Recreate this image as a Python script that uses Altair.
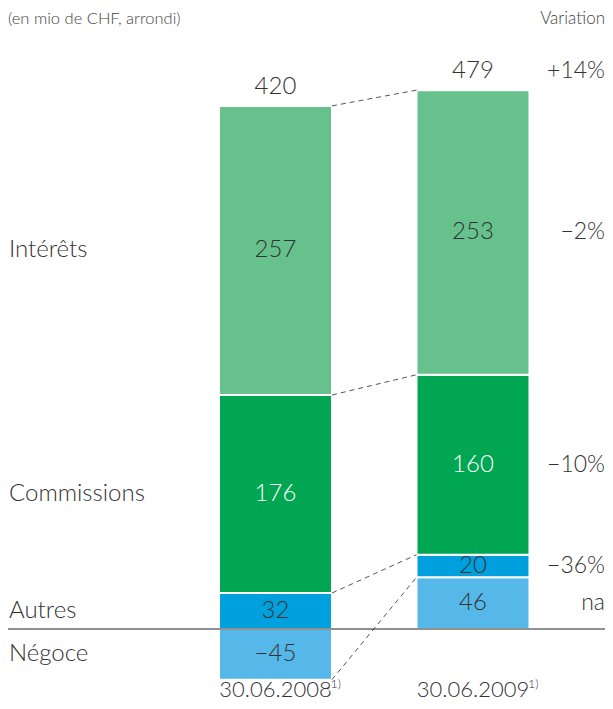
import altair as alt
import pandas as pd

# ---- data ----
categories = ["Négoce", "Autres", "Commissions", "Intérêts"]
periods = ["30.06.2008", "30.06.2009"]
values_2008 = [-45, 32, 176, 257]
values_2009 = [46, 20, 160, 253]
totals = [420, 479]
variations = ["na", "−36%", "−10%", "−2%"]
total_variation = "+14%"
footnote = "1)"
unit_title = "(en mio de CHF, arrondi)"
variation_title = "Variation"

colors = ["#55b8e9", "#00a0df", "#00a651", "#66c18c"]
text_colors = ["#333333", "#333333", "#ffffff", "#333333"]

FONT = "Lato"
HALF = 0.286  # half bar width in x units

# ---- stacking ----
rows = []
for i, (p, vals) in enumerate(zip(periods, [values_2008, values_2009])):
    pos, neg = 0, 0
    for c, v, tc in zip(categories, vals, text_colors):
        if v >= 0:
            y0, y1 = pos, pos + v
            pos = y1
        else:
            y0, y1 = neg, neg + v
            neg = y1
        rows.append(dict(period=p, idx=i + 1, cat=c, value=v, y0=y0, y1=y1, tcolor=tc,
                         mid=(y0 + y1) / 2, label=str(v).replace("-", "−")))
df = pd.DataFrame(rows)

tops = df.groupby("period")["y1"].max().reindex(periods).tolist()
bottoms = df.groupby("period")[["y0", "y1"]].min().min(axis=1).reindex(periods).tolist()

def edge(period, cat, col):
    return float(df[(df.period == period) & (df.cat == cat)][col].iloc[0])

conn = pd.DataFrame([
    dict(a=tops[0], b=tops[1]),
    dict(a=edge(periods[0], "Intérêts", "y0"), b=edge(periods[1], "Intérêts", "y0")),
    dict(a=edge(periods[0], "Commissions", "y0"), b=edge(periods[1], "Commissions", "y0")),
    dict(a=bottoms[0], b=edge(periods[1], "Négoce", "y1")),
])
conn["xa"] = 1 + HALF
conn["xb"] = 2 - HALF

top_df = pd.DataFrame(dict(idx=[1, 2], top=tops, label=[str(t) for t in totals]))
left_df = df[df.period == periods[0]][["cat", "mid"]]
right_df = df[df.period == periods[1]][["mid"]].copy()
right_df["var"] = variations
right_top = pd.DataFrame(dict(top=[tops[1]], var=[total_variation]))
date_df = pd.DataFrame(dict(idx=[1, 2], period=periods, note=[footnote, footnote]))

W, H = 597, 693
xs = alt.Scale(domain=[-0.3544, 2.6684], nice=False, zero=False)
ys = alt.Scale(domain=[-64.0, 552.0], nice=False, zero=False)
X = lambda f: alt.X(f, type="quantitative", scale=xs, axis=None)
Y = lambda f: alt.Y(f, type="quantitative", scale=ys, axis=None)

base = alt.Chart(df)

bars = base.mark_rect(stroke="white", strokeWidth=2).transform_calculate(
    xl="datum.idx - %f" % HALF, xr="datum.idx + %f" % HALF
).encode(
    x=X("xl:Q"), x2="xr:Q", y=Y("y0:Q"), y2="y1:Q",
    color=alt.Color("cat:N", scale=alt.Scale(domain=categories, range=colors), legend=None),
)

vals = base.mark_text(font=FONT, fontSize=24, fontWeight=300, baseline="middle").encode(
    x=X("idx:Q"), y=Y("mid:Q"), text="label:N",
    color=alt.Color("tcolor:N", scale=None),
)

zero = alt.Chart(pd.DataFrame(dict(z=[0]))).mark_rule(color="#222222", strokeWidth=1.2).encode(
    y=Y("z:Q"), x=alt.value(0), x2=alt.value(W)
)

connectors = alt.Chart(conn).mark_rule(color="#555555", strokeWidth=1, strokeDash=[5, 4]).encode(
    x=X("xa:Q"), x2="xb:Q", y=Y("a:Q"), y2="b:Q"
)

top_labels = alt.Chart(top_df).mark_text(font=FONT, fontSize=24, fontWeight=300, dy=-19,
                                         baseline="middle", color="#333333").encode(
    x=X("idx:Q"), y=Y("top:Q"), text="label:N"
)

left_labels = alt.Chart(left_df).mark_text(font=FONT, fontSize=24, fontWeight=300, align="left",
                                           baseline="middle", color="#333333").encode(
    x=alt.value(1), y=Y("mid:Q"), text="cat:N"
)

right_labels = alt.Chart(right_df).mark_text(font=FONT, fontSize=23, fontWeight=300, align="right",
                                             baseline="middle", color="#333333").encode(
    x=alt.value(W), y=Y("mid:Q"), text="var:N"
)

right_top_label = alt.Chart(right_top).mark_text(font=FONT, fontSize=23, fontWeight=300, align="right",
                                                 baseline="middle", dy=-19, color="#333333").encode(
    x=alt.value(W), y=Y("top:Q"), text="var:N"
)

titles = alt.Chart(pd.DataFrame(dict(t=[unit_title]))).mark_text(
    font=FONT, fontSize=16.5, fontWeight=300, align="left", baseline="middle", color="#444444"
).encode(x=alt.value(0), y=alt.value(11), text="t:N")

var_title = alt.Chart(pd.DataFrame(dict(t=[variation_title]))).mark_text(
    font=FONT, fontSize=17, fontWeight=300, align="right", baseline="middle", color="#444444"
).encode(x=alt.value(W), y=alt.value(11), text="t:N")

dates = alt.Chart(date_df).mark_text(font=FONT, fontSize=22, fontWeight=300, baseline="middle",
                                     color="#333333").encode(
    x=X("idx:Q"), y=alt.value(H - 11), text="period:N"
)

notes = alt.Chart(date_df).mark_text(font=FONT, fontSize=12.5, fontWeight=300, align="left",
                                     baseline="middle", dx=55, dy=-6, color="#333333").encode(
    x=X("idx:Q"), y=alt.value(H - 11), text="note:N"
)

chart = alt.layer(
    bars, connectors, zero, vals, top_labels, left_labels, right_labels, right_top_label,
    titles, var_title, dates, notes
).properties(
    width=W, height=H, padding=0, autosize=alt.AutoSizeParams(type="none")
).configure_view(stroke=None)

chart.save("out.html", embed_options={"renderer": "svg", "actions": False})
